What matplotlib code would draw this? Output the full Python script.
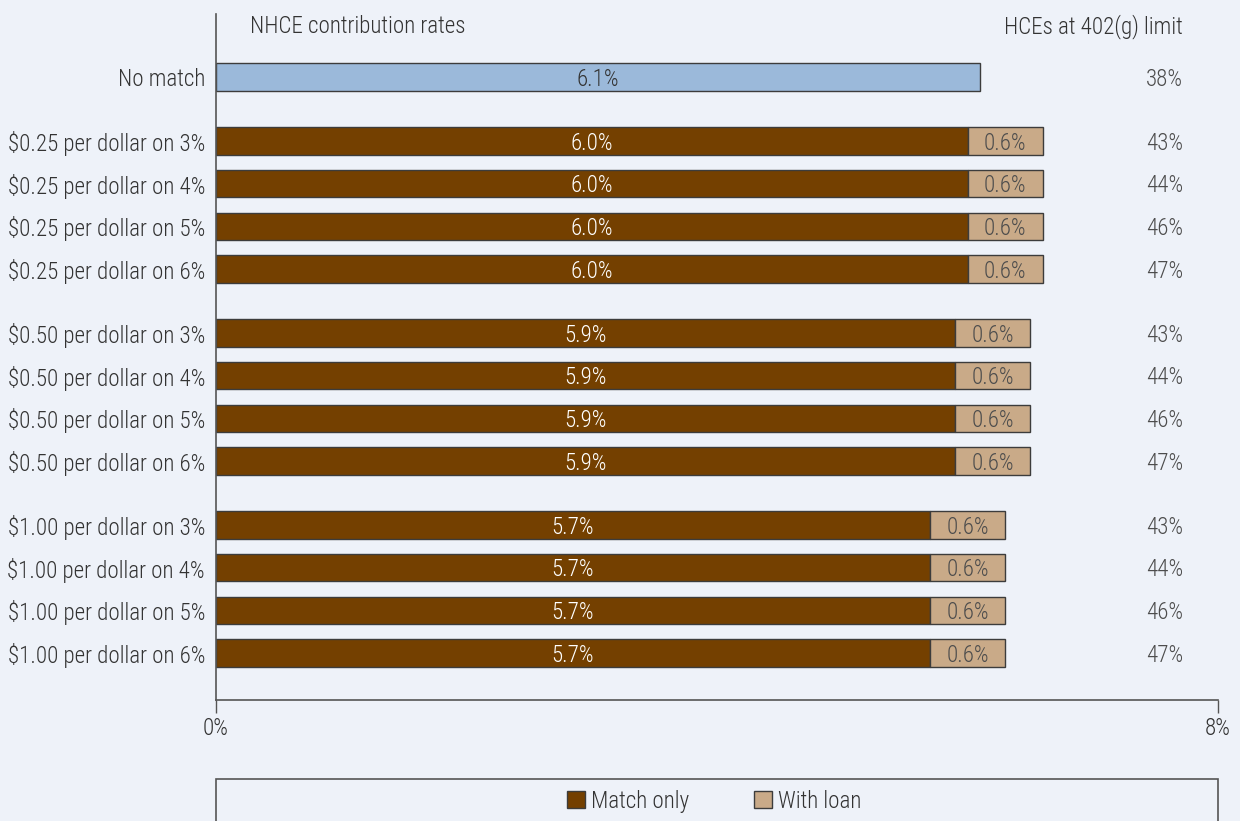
import matplotlib
matplotlib.use("Agg")
import matplotlib.pyplot as plt
from matplotlib.patches import Patch, Rectangle

plt.rcParams['font.family'] = ['Roboto Condensed', 'DejaVu Sans']
plt.rcParams['font.stretch'] = 'condensed'
plt.rcParams['font.weight'] = 'light'

labels = ['No match',
          '$0.25 per dollar on 3%', '$0.25 per dollar on 4%',
          '$0.25 per dollar on 5%', '$0.25 per dollar on 6%',
          '$0.50 per dollar on 3%', '$0.50 per dollar on 4%',
          '$0.50 per dollar on 5%', '$0.50 per dollar on 6%',
          '$1.00 per dollar on 3%', '$1.00 per dollar on 4%',
          '$1.00 per dollar on 5%', '$1.00 per dollar on 6%']
match_only = [6.1, 6.0, 6.0, 6.0, 6.0, 5.9, 5.9, 5.9, 5.9, 5.7, 5.7, 5.7, 5.7]
with_loan = [0.0, 0.6, 0.6, 0.6, 0.6, 0.6, 0.6, 0.6, 0.6, 0.6, 0.6, 0.6, 0.6]
hce_share = [38, 43, 44, 46, 47, 43, 44, 46, 47, 43, 44, 46, 47]

BG = '#eef2f9'
BROWN = '#744000'
TAN = '#c9aa88'
BLUE = '#9bb9da'
TEXT = '#333333'
GREY = '#4d4d4d'
EDGE = '#3c3c3c'

# rows sit one unit apart, with an extra half unit between groups
ypos = [0, 1.5, 2.5, 3.5, 4.5, 6, 7, 8, 9, 10.5, 11.5, 12.5, 13.5]

fig = plt.figure(figsize=(12.4, 8.21), dpi=100, facecolor=BG)
ax = fig.add_axes([216 / 1240, 1 - 700 / 821, 1002 / 1240, 686 / 821])
ax.set_facecolor(BG)

fs = 16.6
for i, y in enumerate(ypos):
    if i == 0:
        ax.barh(y, match_only[i], height=0.64, color=BLUE, edgecolor=EDGE, lw=1)
        ax.text(match_only[i] / 2, y + 0.05, f'{match_only[i]:.1f}%', ha='center',
                va='center', color=TEXT, fontsize=fs)
    else:
        ax.barh(y, match_only[i], height=0.64, color=BROWN, edgecolor=EDGE, lw=1)
        ax.barh(y, with_loan[i], left=match_only[i], height=0.64, color=TAN,
                edgecolor=EDGE, lw=1)
        ax.text(match_only[i] / 2, y + 0.05, f'{match_only[i]:.1f}%', ha='center',
                va='center', color='white', fontsize=fs)
        ax.text(match_only[i] + with_loan[i] / 2, y + 0.05, f'{with_loan[i]:.1f}%',
                ha='center', va='center', color=GREY, fontsize=fs)
    ax.text(7.72, y + 0.05, f'{hce_share[i]}%', ha='right', va='center',
            color=GREY, fontsize=fs)

ax.text(0.27, -1.18, 'NHCE contribution rates', ha='left', va='center',
        color=TEXT, fontsize=fs)
ax.text(7.72, -1.18, 'HCEs at 402(g) limit', ha='right', va='center',
        color=TEXT, fontsize=fs)

ax.set_xlim(0, 8)
ax.set_ylim(14.6, -1.48)
ax.set_yticks(ypos)
ax.set_yticklabels(labels, fontsize=fs, color=TEXT)
ax.tick_params(axis='y', length=0, pad=8)
ax.set_xticks([0, 8])
ax.set_xticklabels(['0%', '8%'], fontsize=fs, color=TEXT)
ax.tick_params(axis='x', length=9, width=1, color='#555555', pad=3)
for side in ['top', 'right']:
    ax.spines[side].set_visible(False)
for side in ['left', 'bottom']:
    ax.spines[side].set_color('#555555')
    ax.spines[side].set_linewidth(1.2)

# legend frame runs off the bottom edge
fig.patches.append(Rectangle((216 / 1240, -0.05), 1002 / 1240, 0.05 + 42 / 821,
                             transform=fig.transFigure, fill=False,
                             edgecolor='#555555', lw=1.2))
handles = [Patch(facecolor=BROWN, edgecolor=EDGE, label='Match only'),
           Patch(facecolor=TAN, edgecolor=EDGE, label='With loan')]
fig.legend(handles=handles, loc='center', bbox_to_anchor=(714 / 1240, 1 - 801 / 821),
           ncol=2, frameon=False, fontsize=fs, handlelength=0.8, handleheight=0.8,
           handletextpad=0.26, columnspacing=2.8, labelcolor=TEXT)

fig.savefig('out.png', dpi=100, facecolor=BG)
